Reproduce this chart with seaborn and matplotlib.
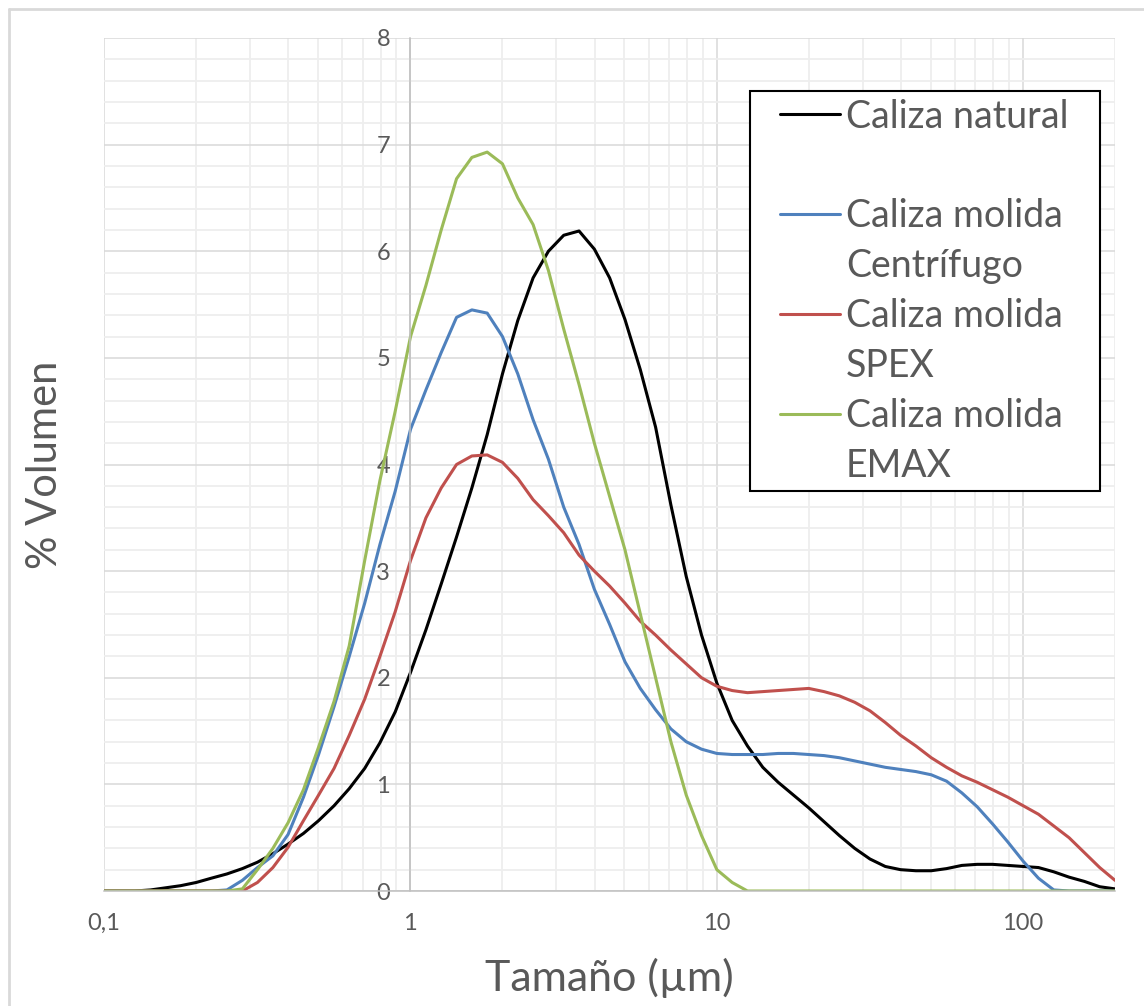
import numpy as np
import pandas as pd
import matplotlib
matplotlib.use("Agg")
import matplotlib.pyplot as plt
import seaborn as sns
from matplotlib.lines import Line2D
from matplotlib.legend_handler import HandlerLine2D
from matplotlib.ticker import LogLocator, MultipleLocator, NullFormatter

# ---------------- data ----------------
sizes = [0.1, 0.112, 0.126, 0.142, 0.159, 0.178, 0.2, 0.224, 0.252, 0.283,
         0.317, 0.356, 0.399, 0.448, 0.502, 0.564, 0.632, 0.71, 0.796, 0.893,
         1.002, 1.125, 1.262, 1.416, 1.589, 1.783, 2.0, 2.244, 2.518, 2.825,
         3.17, 3.557, 3.991, 4.477, 5.024, 5.637, 6.325, 7.096, 7.962, 8.934,
         10.024, 11.247, 12.619, 14.159, 15.887, 17.825, 20.0, 22.44, 25.179, 28.251,
         31.698, 35.566, 39.905, 44.774, 50.238, 56.368, 63.246, 70.963, 79.621, 89.337,
         100.237, 112.468, 126.191, 141.589, 158.866, 178.25, 200.0]

natural = [0, 0, 0, 0.01, 0.03, 0.05, 0.08, 0.12, 0.16, 0.21,
           0.27, 0.35, 0.44, 0.54, 0.66, 0.8, 0.96, 1.15, 1.39, 1.68,
           2.05, 2.45, 2.88, 3.32, 3.78, 4.28, 4.85, 5.35, 5.75, 6.0,
           6.15, 6.19, 6.02, 5.75, 5.36, 4.89, 4.35, 3.62, 2.95, 2.4,
           1.95, 1.6, 1.36, 1.16, 1.02, 0.9, 0.78, 0.65, 0.52, 0.4,
           0.3, 0.23, 0.2, 0.19, 0.19, 0.21, 0.24, 0.25, 0.25, 0.24,
           0.23, 0.22, 0.18, 0.13, 0.09, 0.04, 0.02]

centrifugo = [0, 0, 0, 0, 0, 0, 0, 0, 0.01, 0.1,
              0.22, 0.33, 0.53, 0.88, 1.28, 1.73, 2.2, 2.7, 3.25, 3.75,
              4.33, 4.7, 5.05, 5.38, 5.45, 5.42, 5.2, 4.85, 4.42, 4.05,
              3.6, 3.25, 2.83, 2.5, 2.15, 1.9, 1.7, 1.52, 1.4, 1.33,
              1.29, 1.28, 1.28, 1.28, 1.29, 1.29, 1.28, 1.27, 1.25, 1.22,
              1.19, 1.16, 1.14, 1.12, 1.09, 1.03, 0.92, 0.79, 0.63, 0.46,
              0.28, 0.12, 0.01, 0, 0, 0, 0]

spex = [0, 0, 0, 0, 0, 0, 0, 0, 0, 0,
        0.08, 0.22, 0.41, 0.66, 0.9, 1.15, 1.46, 1.8, 2.2, 2.62,
        3.1, 3.5, 3.78, 4.0, 4.08, 4.09, 4.02, 3.87, 3.67, 3.52,
        3.36, 3.15, 3.0, 2.86, 2.7, 2.53, 2.4, 2.26, 2.13, 2.0,
        1.92, 1.88, 1.86, 1.87, 1.88, 1.89, 1.9, 1.87, 1.83, 1.77,
        1.69, 1.58, 1.46, 1.36, 1.25, 1.16, 1.08, 1.02, 0.95, 0.88,
        0.8, 0.72, 0.61, 0.5, 0.36, 0.22, 0.1]

emax = [0, 0, 0, 0, 0, 0, 0, 0, 0, 0.02,
        0.2, 0.4, 0.64, 0.95, 1.35, 1.78, 2.3, 3.1, 3.85, 4.5,
        5.2, 5.68, 6.2, 6.68, 6.88, 6.93, 6.82, 6.5, 6.25, 5.82,
        5.27, 4.75, 4.2, 3.7, 3.2, 2.6, 2.0, 1.4, 0.9, 0.52,
        0.2, 0.08, 0, 0, 0, 0, 0, 0, 0, 0,
        0, 0, 0, 0, 0, 0, 0, 0, 0, 0,
        0, 0, 0, 0, 0, 0, 0]

series_names = ["Caliza natural", "Caliza molida Centrífugo",
                "Caliza molida SPEX", "Caliza molida EMAX"]
legend_first = ["Caliza natural", "Caliza molida", "Caliza molida", "Caliza molida"]
legend_second = [" ", "Centrífugo", "SPEX", "EMAX"]
series_colors = ["#000000", "#4F81BD", "#C0504D", "#9BBB59"]

x_ticks = [0.1, 1, 10, 100]
x_tick_labels = ["0,1", "1", "10", "100"]
y_ticks = [0, 1, 2, 3, 4, 5, 6, 7, 8]
x_label = "Tamaño (µm)"
y_label = "% Volumen"

# ---------------- style ----------------
sns.set_theme(style="white")
plt.rcParams['font.family'] = ['Lato', 'DejaVu Sans']
text_color = "#595959"

W, H = 1144, 1006
fig = plt.figure(figsize=(W / 100, H / 100), dpi=100)
ax = fig.add_axes([104 / W, 1 - 891 / H, 1011 / W, 853 / H])
ax.set_xscale('log')

df = pd.concat([
    pd.DataFrame({"size": sizes, "value": vals, "series": name})
    for name, vals in zip(series_names, [natural, centrifugo, spex, emax])
], ignore_index=True)

sns.lineplot(data=df, x="size", y="value", hue="series", hue_order=series_names,
             palette=dict(zip(series_names, series_colors)), linewidth=2.2,
             estimator=None, sort=False, legend=False, ax=ax)

ax.set_xlim(0.1, 200)
ax.set_ylim(0, 8)

ax.set_xticks(x_ticks)
ax.set_xticklabels(x_tick_labels)
ax.xaxis.set_minor_locator(LogLocator(base=10, subs=np.arange(2, 10)))
ax.xaxis.set_minor_formatter(NullFormatter())
ax.set_yticks(y_ticks)
ax.set_yticklabels([str(v) for v in y_ticks])
ax.yaxis.set_minor_locator(MultipleLocator(0.2))

ax.set_axisbelow(True)
ax.grid(which='major', color='#d9d9d9', linewidth=1.1)
ax.grid(which='minor', color='#eeeeee', linewidth=1.3)

for s in ['top', 'right']:
    ax.spines[s].set_visible(False)
ax.spines['left'].set_position(('data', 1))
ax.spines['left'].set_color('#bfbfbf')
ax.spines['bottom'].set_color('#bfbfbf')
ax.spines['left'].set_linewidth(1.1)
ax.spines['bottom'].set_linewidth(1.1)

ax.tick_params(axis='both', which='major', direction='out', length=5.5, width=1.1,
               color='#bfbfbf', labelcolor=text_color, labelsize=17)
ax.tick_params(axis='x', which='major', pad=10)
ax.tick_params(axis='y', which='major', pad=9)
ax.tick_params(which='minor', length=0)

ax.set_xlabel(x_label, fontsize=31, color=text_color)
ax.xaxis.set_label_coords(0.5, -0.102)
ax.xaxis.label.set_va('center')
ax.set_ylabel(y_label, fontsize=30, color=text_color)
ax.yaxis.set_label_coords(-0.0584, 0.5)
ax.yaxis.label.set_va('center')

# ---------------- legend ----------------
class ShiftedLine(HandlerLine2D):
    def __init__(self, shift_em, **kw):
        super().__init__(**kw)
        self.shift_em = shift_em

    def create_artists(self, legend, orig_handle, xdescent, ydescent, width,
                       height, fontsize, trans):
        sh = self.shift_em * fontsize
        return super().create_artists(legend, orig_handle, xdescent - sh, ydescent,
                                      width - sh, height, fontsize, trans)

lines = ax.get_lines()[:4]
handles, labels = [], []
for ln, a, b in zip(lines, legend_first, legend_second):
    handles += [ln, Line2D([], [], linestyle='none')]
    labels += [a, b]

leg = ax.legend(handles, labels, loc='upper left',
                bbox_to_anchor=(750 / W, 1 - 493 / H, 350 / W, 402 / H),
                bbox_transform=fig.transFigure, mode='expand',
                fontsize=27, labelcolor=text_color, frameon=True, fancybox=False,
                framealpha=1, edgecolor='black', borderpad=0.2,
                labelspacing=0.37, handlelength=2.2, handletextpad=0.16,
                borderaxespad=0,
                handler_map={Line2D: ShiftedLine(0.6)})
leg.get_frame().set_linewidth(1.5)

# outer chart frame
fig.add_artist(Line2D([9 / W, 9 / W], [0, 1 - 9 / H], transform=fig.transFigure,
                      color='#d9d9d9', linewidth=2))
fig.add_artist(Line2D([9 / W, 1], [1 - 9 / H, 1 - 9 / H], transform=fig.transFigure,
                      color='#d9d9d9', linewidth=2))

fig.savefig("out.png", dpi=100)
